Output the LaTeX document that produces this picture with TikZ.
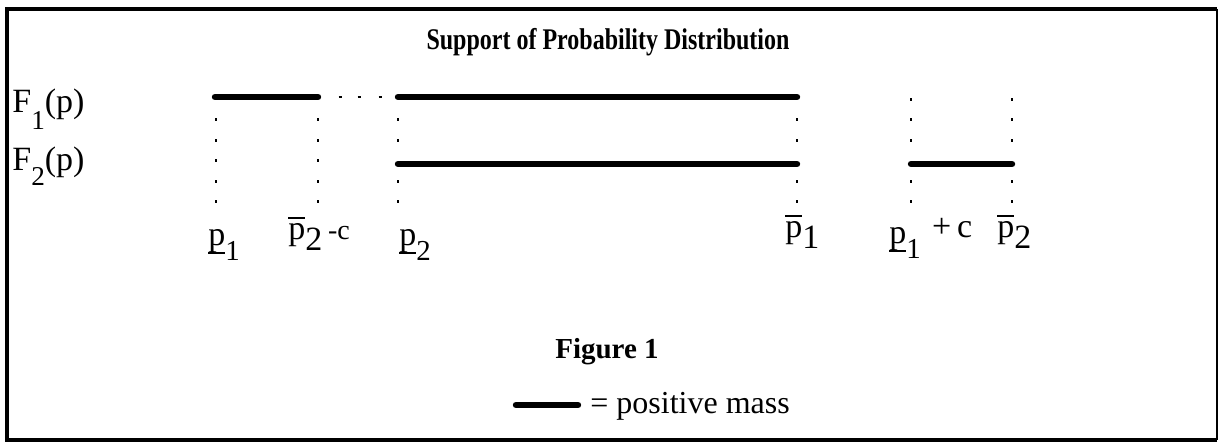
\documentclass[tikz,border=0pt]{standalone}
\usepackage{fontspec}
\setmainfont{Liberation Serif}
\newcommand\ovp{\rlap{\raisebox{0.62em}{\rule{0.5em}{0.06em}}}p}
\newcommand\unp{\rlap{\raisebox{-0.25em}{\rule{0.5em}{0.06em}}}p}
\newcommand\lowdig[1]{\raisebox{-0.3em}{#1}}
\newcommand\subdig[1]{\raisebox{-0.42em}{\scalebox{0.85}{#1}}}
\begin{document}
\begin{tikzpicture}[x=0.5pt,y=-0.5pt,
  mass/.style={line width=3.2pt,line cap=round},
  tick/.style={line width=0.7pt},
  lab/.style={anchor=base west,inner sep=0pt,font=\fontsize{17}{20}\selectfont},
  boldlab/.style={anchor=base,inner sep=0pt,font=\fontsize{14.5}{17}\selectfont\bfseries}]
\useasboundingbox (0,0) rectangle (1218,442);
% frame
\draw[line width=2pt] (1217,440) -- (6.5,440) -- (6.5,9) -- (1217,9);
\draw[line width=0.6pt] (1217,9) -- (1217,440);
% title
\node[boldlab] (title) at (608,50) {\scalebox{0.8}[1]{\fontsize{15}{18}\selectfont Support of Probability Distribution}};
% row labels
\node[lab] (F1) at (12,113) {F\raisebox{-0.5em}{\scalebox{0.8}{1}}(p)};
\node[lab] (F2) at (12,171) {F\raisebox{-0.42em}{\scalebox{0.8}{2}}(p)};
% support segments
\coordinate (a1) at (215,97);  \coordinate (a2) at (318,97);
\coordinate (b1) at (398,97);  \coordinate (b2) at (797,97);
\coordinate (c1) at (398,164); \coordinate (c2) at (797,164);
\coordinate (d1) at (911,164); \coordinate (d2) at (1012,164);
\draw[mass] (a1) -- (a2);
\draw[mass] (b1) -- (b2);
\draw[mass] (c1) -- (c2);
\draw[mass] (d1) -- (d2);
% dotted gap on F1
\foreach \x in {340,359,380} \draw[tick] (\x,97) ++(-1.5,0) -- ++(3,0);
% vertical dotted guides
\foreach \x in {216,318} \foreach \y in {120,141,161,182,202}
  \draw[tick] (\x,\y) ++(0,-1.5) -- ++(0,3);
\foreach \x in {398,797} \foreach \y in {120,141,182,202}
  \draw[tick] (\x,\y) ++(0,-1.5) -- ++(0,3);
\foreach \x in {911,1012} \foreach \y in {100,120,141,182,202}
  \draw[tick] (\x,\y) ++(0,-1.5) -- ++(0,3);
% axis labels
\node[lab] (l1) at (208,246) {\unp\subdig{1}};
\node[lab] (l2) at (288,240) {\ovp\lowdig{2}\,{\fontsize{14}{14}\selectfont -c}};
\node[lab] (l3) at (399,246) {\unp\subdig{2}};
\node[lab] (l4) at (785,238) {\ovp\lowdig{1}};
\node[lab] (l5) at (889,244) {\unp\subdig{1}\,\,\raisebox{0.2em}{+\,c}};
\node[lab] (l6) at (997,238) {\ovp\lowdig{2}};
% caption
\node[boldlab] (fig) at (607,358) {Figure 1};
% legend
\coordinate (k1) at (516,405); \coordinate (k2) at (578,405);
\draw[mass] (k1) -- (k2);
\node[lab,font=\fontsize{16}{19}\selectfont] (leg) at (590,413) {= positive mass};
\end{tikzpicture}
\end{document}
